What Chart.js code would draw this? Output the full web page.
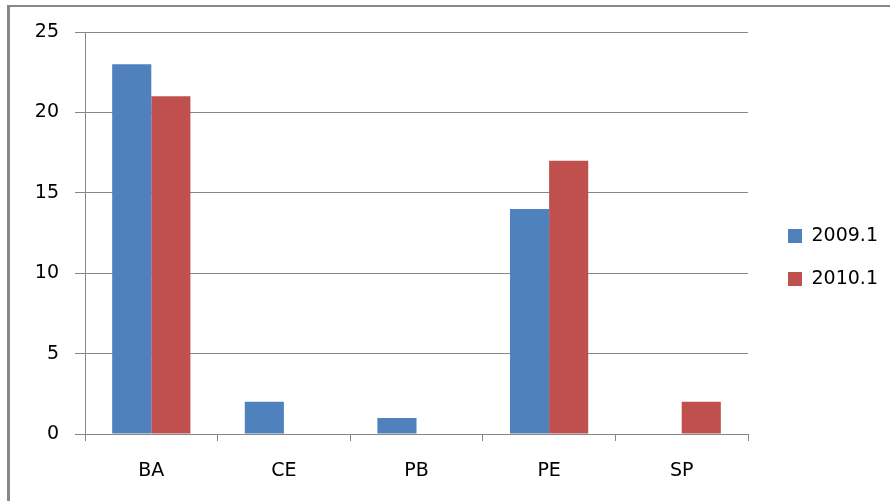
<!DOCTYPE html>
<html>
<head>
<meta charset="utf-8">
<script src="https://cdn.jsdelivr.net/npm/chart.js@4"></script>
<style>
    html, body { margin: 0; padding: 0; background: #fff; }
    #wrap { position: relative; width: 890px; height: 501px; overflow: hidden; }
    #frame {
        position: absolute; left: 7px; top: 5px; width: 900px; height: 520px;
        border-top: 2px solid #878787; border-left: 3px solid #878787;
    }
    canvas { position: absolute; left: 0; top: 0; }
</style>
</head>
<body>
<div id="wrap">
    <div id="frame"></div>
    <canvas id="myChart" width="890" height="501"></canvas>
</div>
<script>
const categories = ['BA', 'CE', 'PB', 'PE', 'SP'];
const series2009 = [23, 2, 1, 14, 0];
const series2010 = [21, 0, 0, 17, 2];
const yTicks = [0, 5, 10, 15, 20, 25];

Chart.defaults.font.family = 'DejaVu Sans';
Chart.defaults.font.size = 19;
Chart.defaults.color = '#000';

const gridColor = '#868686';

let ctx = document.getElementById('myChart').getContext('2d');

const data = {
    labels: categories,
    datasets: [{
        label: '2009.1',
        data: series2009,
        backgroundColor: '#4F81BD',
        borderWidth: 0,
        inflateAmount: 0
    }, {
        label: '2010.1',
        data: series2010,
        backgroundColor: '#C0504D',
        borderWidth: 0,
        inflateAmount: 0
    }]
};

const config = {
    type: 'bar',
    data: data,
    options: {
        responsive: false,
        animation: false,
        devicePixelRatio: 1,
        categoryPercentage: 0.59,
        barPercentage: 1,
        layout: {
            padding: { left: 35, right: 2, top: 32, bottom: 18 }
        },
        plugins: {
            tooltip: { enabled: false },
            legend: {
                position: 'right',
                labels: {
                    boxWidth: 14,
                    boxHeight: 14,
                    padding: 24
                }
            }
        },
        scales: {
            x: {
                grid: {
                    color: gridColor,
                    drawOnChartArea: false,
                    tickLength: 7
                },
                border: { color: gridColor },
                ticks: { padding: 19 },
                afterFit: (scale) => { scale.height = 49; }
            },
            y: {
                min: 0,
                max: 25,
                afterBuildTicks: (scale) => {
                    scale.ticks = yTicks.map(v => ({ value: v }));
                },
                grid: {
                    color: gridColor,
                    tickLength: 10
                },
                border: { color: gridColor },
                ticks: { padding: 16 },
                afterFit: (scale) => { scale.width = 50; }
            },
            // empty gap between the plot and the legend
            gap: {
                type: 'linear',
                position: 'right',
                grid: { display: false },
                ticks: { display: false },
                border: { display: false },
                afterFit: (scale) => { scale.width = 16; }
            }
        }
    }
};

let myChart = new Chart(ctx, config);
</script>
</body>
</html>
